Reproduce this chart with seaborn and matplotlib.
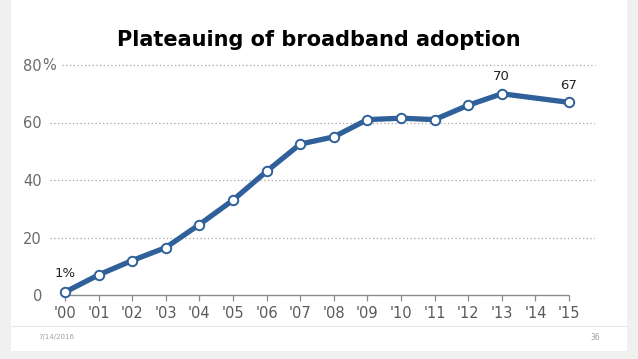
import numpy as np
import pandas as pd
import matplotlib
matplotlib.use("Agg")
import matplotlib.pyplot as plt
from matplotlib.patches import Rectangle
import seaborn as sns

# data (no survey in 2014)
years = [2000, 2001, 2002, 2003, 2004, 2005, 2006, 2007, 2008, 2009, 2010, 2011, 2012, 2013, 2015]
adoption = [1, 7, 12, 16.5, 24.5, 33, 43, 52.5, 55, 61, 61.5, 61, 66, 70, 67]
tick_years = list(range(2000, 2016))
tick_labels = ["'%02d" % (y % 100) for y in tick_years]
ytick_vals = [0, 20, 40, 60, 80]
labelled = {2000: "1%", 2013: "70", 2015: "67"}

df = pd.DataFrame({"year": years, "pct": adoption})

sns.set_theme(style="white")
plt.rcParams['font.family'] = ['DejaVu Sans']

W, H = 638, 359
fig = plt.figure(figsize=(W / 100, H / 100), dpi=100)
fig.patch.set_facecolor("#f0f0f0")
# white slide area
fig.patches.append(Rectangle((11 / W, 8.5 / H), 616 / W, 1 - 8.5 / H, transform=fig.transFigure,
                             facecolor="white", edgecolor="none", zorder=-10))
# footer separator
fig.lines.append(plt.Line2D([11 / W, 627 / W], [1 - 326 / H, 1 - 326 / H], transform=fig.transFigure,
                            color="#e8e8e8", lw=0.8, zorder=-5))
fig.text(38 / W, 1 - 337 / H, "7/14/2016", fontsize=5, color="#a0a0a0", va="center", ha="left")
fig.text(600 / W, 1 - 337 / H, "36", fontsize=5.5, color="#a0a0a0", va="center", ha="right")

ax = fig.add_axes([50 / W, 1 - 295 / H, 545 / W, (295 - 65) / H])
ax.set_facecolor("none")

px = (569 - 65) / 15.0
x_left = 2000 - 15 / px
x_right = 2015 + 26 / px
ax.set_xlim(x_left, x_right)
ax.set_ylim(0, 80)

# dotted grid lines
for v in [20, 40, 60]:
    ax.hlines(v, x_left, x_right, colors="#a6a6a6", linestyles=(0, (1, 2)), lw=0.9)
ax.hlines(80, 2000 - 3 / px, x_right, colors="#a6a6a6", linestyles=(0, (1, 2)), lw=0.9,
          clip_on=False)
# baseline
ax.hlines(0, 2000, 2015, colors="#8c8c8c", lw=1.0, clip_on=False, zorder=2)

sns.lineplot(data=df, x="year", y="pct", ax=ax, color="#2f6099", lw=3.8,
             marker="o", markersize=6.8, markerfacecolor="white",
             markeredgecolor="#2f6099", markeredgewidth=1.4, clip_on=False, zorder=5)

for x, t in labelled.items():
    y = adoption[years.index(x)]
    ax.annotate(t, xy=(x, y), xytext=(0, 17 if x != 2000 else 19), textcoords="offset pixels",
                ha="center", va="center", fontsize=9.5, color="#222222")

for s in ax.spines.values():
    s.set_visible(False)

ax.set_xticks(tick_years)
ax.set_xticklabels(tick_labels)
ax.set_yticks(ytick_vals)
ax.set_yticklabels([str(v) for v in ytick_vals])
ax.tick_params(axis="x", length=4, width=0.9, color="#8c8c8c", direction="out",
               pad=4, labelsize=10.5, labelcolor="#5a5a5a", bottom=True)
ax.tick_params(axis="y", length=0, pad=5.8, labelsize=10.5, labelcolor="#6a6a6a")
ax.annotate("%", xy=(0, 80), xycoords=("axes fraction", "data"), xytext=(-8, 0),
            textcoords="offset pixels", ha="left", va="center", fontsize=10.5, color="#6a6a6a")
ax.set_xlabel("")
ax.set_ylabel("")
ax.grid(False)

fig.text(319 / W, 1 - 40 / H, "Plateauing of broadband adoption", fontsize=15,
         fontweight="bold", color="black", ha="center", va="center")

fig.savefig("out.png", dpi=100, facecolor=fig.get_facecolor())
